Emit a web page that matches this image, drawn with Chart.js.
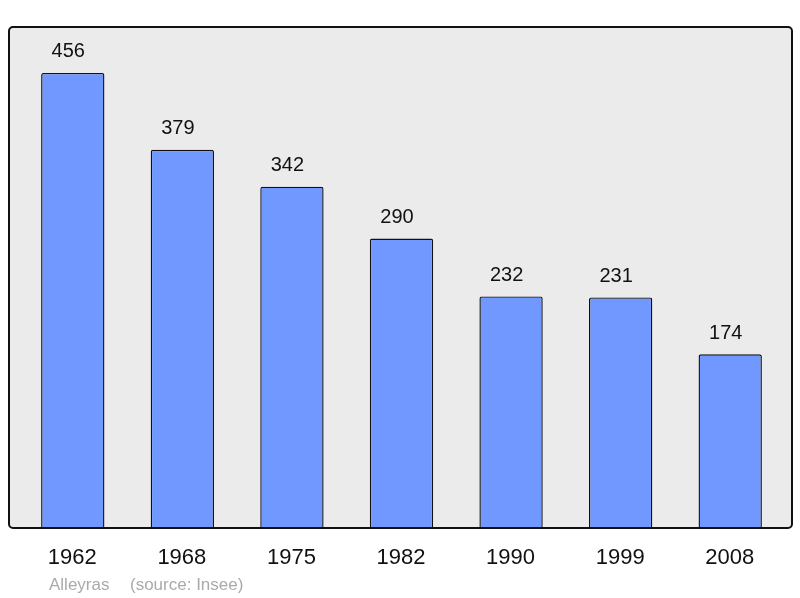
<!DOCTYPE html>
<html><head><meta charset="utf-8">
<script src="https://cdn.jsdelivr.net/npm/chart.js@4/dist/chart.umd.min.js"></script>
<style>html,body{margin:0;padding:0;background:#fff}canvas{display:block}</style>
</head><body>
<canvas id="c" width="800" height="598"></canvas>
<script>
const years = ["1962","1968","1975","1982","1990","1999","2008"];
const population = [456,379,342,290,232,231,174];
const yMax = 502;
const footerName = "Alleyras";
const footerSource = "(source: Insee)";

const framePlugin = {
  id: 'frame',
  beforeDraw(chart) {
    const {ctx, chartArea: a} = chart;
    const l = a.left - 9, r = a.right + 7, t = a.top, b = a.bottom;
    ctx.save();
    ctx.beginPath();
    if (ctx.roundRect) ctx.roundRect(l, t, r - l, b - t, 4); else ctx.rect(l, t, r - l, b - t);
    ctx.fillStyle = '#ebebeb';
    ctx.fill();
    ctx.restore();
  },
  afterDatasetsDraw(chart) {
    const {ctx, chartArea: a} = chart;
    const l = a.left - 9, r = a.right + 7, t = a.top, b = a.bottom;
    ctx.save();
    ctx.beginPath();
    if (ctx.roundRect) ctx.roundRect(l, t, r - l, b - t, 4); else ctx.rect(l, t, r - l, b - t);
    ctx.lineWidth = 2;
    ctx.strokeStyle = '#111';
    ctx.stroke();
    // value labels
    const meta = chart.getDatasetMeta(0);
    ctx.fillStyle = '#111';
    ctx.font = '20px "Liberation Sans", Arial, sans-serif';
    ctx.textAlign = 'center';
    ctx.textBaseline = 'middle';
    meta.data.forEach((bar, i) => {
      ctx.fillText(String(population[i]), bar.x - 4.5, bar.y - 21);
    });
    // category labels
    const xs = chart.scales.x;
    ctx.font = '22px "Liberation Sans", Arial, sans-serif';
    years.forEach((y, i) => {
      ctx.fillText(y, xs.getPixelForValue(i) - 0.5, a.bottom + 30);
    });
    // footer
    ctx.font = '17px "Liberation Sans", Arial, sans-serif';
    ctx.fillStyle = '#aaaaaa';
    ctx.textAlign = 'left';
    ctx.fillText(footerName, 49, 585);
    ctx.fillText(footerSource, 130, 585);
    ctx.restore();
  }
};

new Chart(document.getElementById('c'), {
  type: 'bar',
  data: {
    labels: years,
    datasets: [{
      data: population,
      backgroundColor: 'rgb(112,152,255)',
      borderColor: '#111',
      borderWidth: 1.4,
      borderRadius: 2,
      barPercentage: 0.578,
      categoryPercentage: 1
    }]
  },
  options: {
    responsive: false,
    animation: false,
    devicePixelRatio: 1,
    layout: {padding: {left: 18, right: 15, top: 27, bottom: 70}},
    plugins: {legend: {display: false}, tooltip: {enabled: false}},
    scales: {
      x: {display: false},
      y: {display: false, min: 0, max: yMax}
    }
  },
  plugins: [framePlugin]
});
</script>
</body></html>
